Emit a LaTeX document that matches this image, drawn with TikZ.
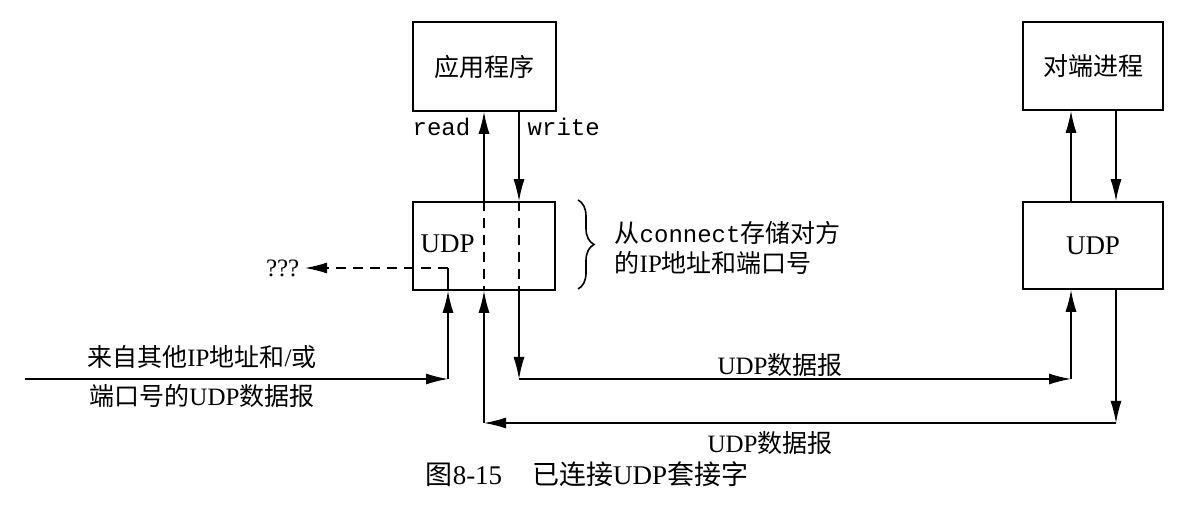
\documentclass[tikz,border=0pt]{standalone}
\usepackage{fontspec}
\setmainfont{Liberation Serif}
\setmonofont{Liberation Mono}
\newfontfamily\cjk{Noto Sans CJK SC}
\usetikzlibrary{arrows.meta,decorations.pathreplacing}
\newcommand\zh[1]{{\cjk #1}}
\begin{document}
\begin{tikzpicture}[x=1pt,y=-1pt,
  line width=1.4pt,
  arr/.style={-{Latex[length=22pt,width=11pt]}},
  dsh/.style={dash pattern=on 10pt off 7pt},
  box/.style={draw,inner sep=0pt,line width=1.6pt},
  lbl/.style={inner sep=0pt,font=\fontsize{25}{30}\selectfont},
  mono/.style={inner sep=0pt,font=\fontsize{24}{28}\ttfamily}]
\useasboundingbox (0,0) rectangle (1186,518);
% boxes
\node[box,minimum width=143pt,minimum height=89pt,lbl] (app) at (484.5,66.5) {\zh{应用程序}};
\node[box,minimum width=142pt,minimum height=88pt] (udpL) at (484,246) {};
\node[box,minimum width=140pt,minimum height=88pt,lbl] (peer) at (1093,66) {\zh{对端进程}};
\node[box,minimum width=140pt,minimum height=87pt,font=\fontsize{27}{30}\selectfont] (udpR) at (1093,245.5) {UDP};
\node[anchor=west,inner sep=0pt,font=\fontsize{27}{30}\selectfont] (udpLt) at (420,244) {UDP};
% helper coordinates
\coordinate (rx) at (484,0);
\coordinate (wx) at (519,0);
\coordinate (ix) at (448,0);
\coordinate (pux) at (1071,0);
\coordinate (pdx) at (1116,0);
\coordinate (c1) at (519,379);
\coordinate (c2) at (1071,379);
\coordinate (c3) at (1116,423);
\coordinate (c4) at (484,423);
\coordinate (in0) at (25,379);
\coordinate (in1) at (448,379);
\coordinate (d0) at (448,268);
\node[lbl,anchor=east] (q) at (300,268) {???};
% read / write
\draw[arr] (udpL.north -| rx) -- (app.south -| rx);
\draw[arr] (app.south -| wx) -- (udpL.north -| wx);
\draw[dsh] (udpL.north -| rx) -- (udpL.south -| rx);
\draw[dsh] (udpL.north -| wx) -- (udpL.south -| wx);
\node[mono,anchor=east] (rd) at (471,127) {read};
\node[mono,anchor=west] (wr) at (527,127) {write};
% outgoing datagram
\draw[arr] (udpL.south -| wx) -- (c1);
\draw[arr] (c1) -- (c2);
\draw[arr] (c2) -- (udpR.south -| pux);
% peer
\draw[arr] (udpR.north -| pux) -- (peer.south -| pux);
\draw[arr] (peer.south -| pdx) -- (udpR.north -| pdx);
% return datagram
\draw[arr] (udpR.south -| pdx) -- (c3);
\draw[arr] (c3) -- (c4);
\draw[arr] (c4) -- (udpL.south -| rx);
% other input
\draw[arr] (in0) -- (in1);
\draw[arr] (in1) -- (udpL.south -| ix);
\draw (udpL.south -| ix) -- (d0);
\draw[dsh,arr] (d0) -- ([xshift=5pt]q.east);
% labels
\node[lbl] (t1) at (202,357) {\zh{来自其他}IP\zh{地址和}/\zh{或}};
\node[lbl] (t2) at (202,396) {\zh{端口号的}UDP\zh{数据报}};
\node[lbl] (t3) at (780,365) {UDP\zh{数据报}};
\node[lbl] (t4) at (770,443) {UDP\zh{数据报}};
% brace
\draw[line width=1.6pt,decorate,decoration={brace,amplitude=16pt}] (578,200) -- (578,289);
\node[lbl,anchor=west,align=left] (bt) at (614,248) {\zh{从}{\ttfamily\fontsize{24}{28}\selectfont connect}\zh{存储对方}\\\zh{的}IP\zh{地址和端口号}};
% caption
\node[inner sep=0pt,font=\fontsize{27}{30}\selectfont] (cap) at (587,474) {\zh{图}8-15\hspace{30pt}\zh{已连接}UDP\zh{套接字}};
\end{tikzpicture}
\end{document}
